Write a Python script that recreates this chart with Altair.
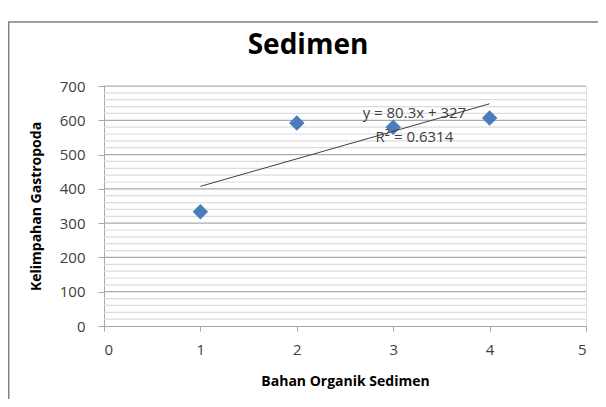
import altair as alt
import pandas as pd

# data
bahan_organik = [1, 2, 3, 4]
kelimpahan = [333, 592, 580, 607]
trend_slope = 80.3
trend_intercept = 327
trend_x = [1, 4]
eq_lines = ["y = 80.3x + 327", "R² = 0.6314"]
eq_x = [3.22, 3.22]
eq_y = [621, 552]
x_ticks = [0, 1, 2, 3, 4, 5]
y_major = [0, 100, 200, 300, 400, 500, 600, 700]
y_minor = [v for v in range(20, 700, 20) if v % 100 != 0]

FONT = "Open Sans"
W, H = 482, 240
PAD = {"left": 96, "top": 78, "right": 12, "bottom": 73}

pts = pd.DataFrame({"x": bahan_organik, "y": kelimpahan})
trend = pd.DataFrame({"x": trend_x, "y": [trend_slope * v + trend_intercept for v in trend_x]})
eq = pd.DataFrame({"x": eq_x, "y": eq_y, "t": eq_lines})
minor_df = pd.DataFrame({"y": y_minor})
major_df = pd.DataFrame({"y": y_major[1:]})

xscale = alt.Scale(domain=[0, 5], nice=False, zero=False)
yscale = alt.Scale(domain=[0, 700], nice=False)

xaxis = alt.Axis(
    title="Bahan Organik Sedimen", values=x_ticks, format="d", grid=False,
    labelOverlap=False,
    domainColor="#a6a6a6", tickColor="#a6a6a6", tickSize=5,
    labelFont=FONT, labelFontSize=15, labelColor="#404040", labelPadding=11,
    titleFont=FONT, titleFontSize=14, titleFontWeight="bold", titleColor="#000000",
    titlePadding=17,
)
yaxis = alt.Axis(
    title="Kelimpahan Gastropoda", values=y_major, format="d", grid=False,
    labelOverlap=False,
    domainColor="#a6a6a6", tickColor="#a6a6a6", tickSize=6,
    labelFont=FONT, labelFontSize=15, labelColor="#404040", labelPadding=13,
    titleFont=FONT, titleFontSize=14, titleFontWeight="bold", titleColor="#000000",
    titlePadding=16,
)

X = lambda: alt.X("x:Q", scale=xscale, axis=xaxis)
Y = lambda: alt.Y("y:Q", scale=yscale, axis=yaxis)

one = alt.Data(values=[{}])
frame_left = alt.Chart(one).mark_rule(color="#808080", strokeWidth=1.5, clip=False).encode(
    x=alt.value(-95.3), y=alt.value(-64), y2=alt.value(H + PAD["bottom"])
)
frame_top = alt.Chart(one).mark_rule(color="#808080", strokeWidth=1.5, clip=False).encode(
    y=alt.value(-64), x=alt.value(-96), x2=alt.value(W + PAD["right"])
)

title = alt.Chart(alt.Data(values=[{"t": "Sedimen"}])).mark_text(
    font=FONT, fontSize=28, fontWeight="bold", color="#000000",
    align="center", baseline="middle"
).encode(x=alt.value(204), y=alt.value(-40), text="t:N")

minor = alt.Chart(minor_df).mark_rule(color="#dcdcdc", strokeWidth=1.2).encode(
    y=Y(), x=alt.value(0), x2=alt.value(W)
)
major = alt.Chart(major_df).mark_rule(color="#aaaaaa", strokeWidth=1.2).encode(
    y=Y(), x=alt.value(0), x2=alt.value(W)
)

points = alt.Chart(pts).mark_point(
    shape="diamond", filled=True, size=240, color="#4a7ebb", opacity=1
).encode(x=X(), y=Y())

line = alt.Chart(trend).mark_line(color="#404040", strokeWidth=1).encode(x=X(), y=Y())

label = alt.Chart(eq).mark_text(
    font=FONT, fontSize=15, color="#404040", align="center", baseline="middle"
).encode(x=X(), y=Y(), text="t:N")

chart = alt.layer(frame_left, frame_top, title, minor, major, points, line, label).properties(
    width=W, height=H,
    autosize=alt.AutoSizeParams(type="none"),
    padding=PAD,
).configure_view(stroke=None).configure(background="white")

chart.save("out.html", embed_options={"renderer": "svg", "actions": False})
